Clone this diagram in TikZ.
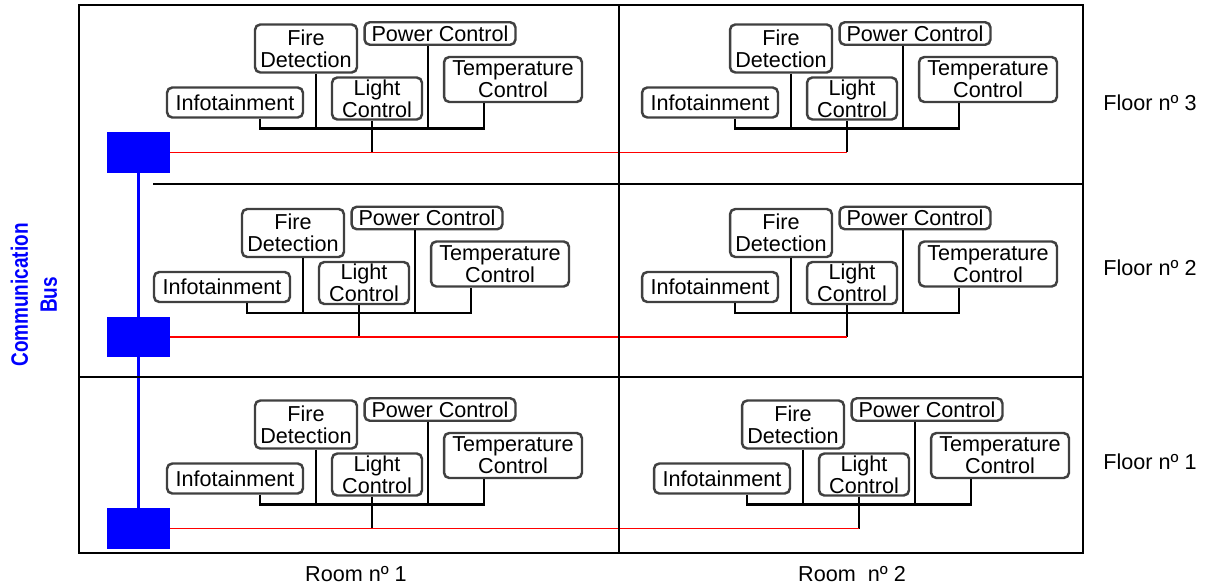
\documentclass[tikz,border=0pt]{standalone}
\usepackage{fontspec}
\setmainfont{Liberation Sans}
\newfontfamily\busfont[FakeStretch=0.8]{Liberation Sans}
\usepackage{tikz}
\usetikzlibrary{positioning}
\tikzstyle{module}=[rectangle, draw=black!75, line width=1.4pt, rounded corners=3pt, fill=white, align=center, inner sep=0.5pt, font=\fontsize{12.3}{12.6}\selectfont]
\tikzstyle{ctrl}=[rectangle, fill=blue, minimum width=1.26cm, minimum height=0.82cm, inner sep=0pt]
\tikzstyle{wire}=[draw=black, line width=1.6pt]
\tikzstyle{redline}=[draw=red, line width=1.1pt]
\tikzstyle{busline}=[draw=blue, line width=1.5pt]
\tikzstyle{wall}=[draw=black, line width=1.5pt]
\tikzstyle{floortext}=[font=\fontsize{12.3}{14}\selectfont, inner sep=0pt]
\tikzstyle{bustext}=[text=blue, align=center, inner sep=0pt, font=\busfont\bfseries\fontsize{13.5}{16.5}\selectfont]

% one room: prefix, x and y of the junction on the red line
\newcommand{\roomunit}[3]{%
\begin{scope}[shift={(#2,#3)}]
\coordinate (#1o) at (0,0);
\coordinate (#1b1) at (-112,-24);
\coordinate (#1b2) at (-56,-24);
\coordinate (#1b3) at (0,-24);
\coordinate (#1b4) at (56,-24);
\coordinate (#1b5) at (112,-24);
\node[module, minimum width=2.72cm, minimum height=0.6cm] (#1inf) at (-137,-50){Infotainment};
\node[module, minimum width=2.04cm, minimum height=0.96cm] (#1fire) at (-66,-104){Fire\\Detection};
\node[module, minimum width=1.8cm, minimum height=0.84cm] (#1light) at (5,-54){Light\\Control};
\node[module, minimum width=3.02cm, minimum height=0.45cm] (#1pow) at (68,-119){Power Control};
\node[module, minimum width=2.76cm, minimum height=0.9cm] (#1temp) at (141,-73){Temperature\\Control};
\draw[wire] (#1b1 |- #1inf.south) -- (#1b1) -- (#1b5) -- (#1b5 |- #1temp.south);
\draw[wire] (#1b2 |- #1fire.south) -- (#1b2);
\draw[wire] (#1b4 |- #1pow.south) -- (#1b4);
\draw[wire] (#1b3 |- #1light.south) -- (#1o);
\end{scope}}

\begin{document}
\begin{tikzpicture}[x=0.02cm, y=-0.02cm]
\useasboundingbox (0,0) rectangle (1209,584);

%Floor three
\roomunit{f3r1-}{372}{152.5}
\roomunit{f3r2-}{847}{152.5}
%Floor two
\roomunit{f2r1-}{359}{337}
\roomunit{f2r2-}{847}{337}
%Floor one
\roomunit{f1r1-}{372}{528.5}
\roomunit{f1r2-}{859}{528.5}

%Controllers
\node[ctrl] (q3) at (138.5,152.5){};
\node[ctrl] (q2) at (138.5,337){};
\node[ctrl] (q1) at (138.5,528.5){};
\draw[busline] (q3) -- (q1);
\draw[redline] (q3.east) -- (f3r2-o);
\draw[redline] (q2.east) -- (f2r2-o);
\draw[redline] (q1.east) -- (f1r2-o);

%Walls
\draw[wall] (79,5) rectangle (1083,553);
\draw[wall] (619,5) -- (619,553);
\draw[wall] (153,184) -- (1083,184);
\draw[wall] (79,377) -- (1083,377);

%Labels
\node[floortext] (fl3) at (1150,103){Floor nº 3};
\node[floortext] (fl2) at (1150,268){Floor nº 2};
\node[floortext] (fl1) at (1150,462){Floor nº 1};
\node[floortext] (rm1) at (356,574){Room nº 1};
\node[floortext] (rm2) at (852,574){Room~ nº 2};
\node[bustext, rotate=90] (bus) at (34,295){Communication\\Bus};

\end{tikzpicture}
\end{document}
